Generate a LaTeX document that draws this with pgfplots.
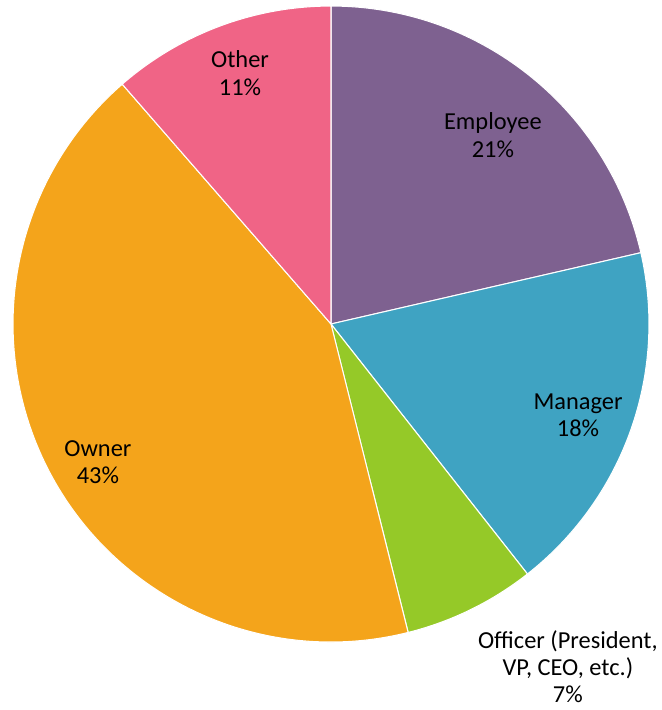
\documentclass[border=0pt]{standalone}
\usepackage{pgfplots}
\pgfplotsset{compat=1.18}
\usepackage{fontspec}
\setmainfont{Carlito}

\definecolor{cEmployee}{HTML}{7E6190}
\definecolor{cManager}{HTML}{3FA3C2}
\definecolor{cOfficer}{HTML}{95C928}
\definecolor{cOwner}{HTML}{F4A41B}
\definecolor{cOther}{HTML}{F06486}

\tikzset{pielabel/.style={font=\fontsize{18.3}{20.3}\selectfont, align=center, text=black, inner sep=0pt}}

% shares in percent, clockwise from the top
\def\sEmployee{21.4}
\def\sManager{18.0}
\def\sOfficer{6.7}
\def\sOwner{42.5}
\def\sOther{11.4}

\pgfmathsetmacro\aA{90}
\pgfmathsetmacro\aB{\aA-3.6*\sEmployee}
\pgfmathsetmacro\aC{\aB-3.6*\sManager}
\pgfmathsetmacro\aD{\aC-3.6*\sOfficer}
\pgfmathsetmacro\aE{\aD-3.6*\sOwner}
\pgfmathsetmacro\aF{\aE-3.6*\sOther}

\newcommand\pieslice[3]{%
  \fill[#3, draw=white, line width=0.8pt] (axis cs:0,0) -- (axis cs:{cos(#1)},{sin(#1)})
    arc[start angle=#1, end angle=#2, radius=1] -- cycle;}

\begin{document}
\begin{tikzpicture}
\begin{axis}[
  hide axis, scale only axis, clip=false,
  width=496.5pt, height=532.5pt,
  xmin=-1.041, xmax=1.041, ymin=-1.214, ymax=1.019,
]
\coordinate (ll) at (rel axis cs:0,0);
\coordinate (ur) at (rel axis cs:1,1);
\pieslice{\aA}{\aB}{cEmployee}
\pieslice{\aB}{\aC}{cManager}
\pieslice{\aC}{\aD}{cOfficer}
\pieslice{\aD}{\aE}{cOwner}
\pieslice{\aE}{\aF}{cOther}

\node[pielabel] at (axis cs:0.509,0.594) {Employee\\21\%};
\node[pielabel] at (axis cs:0.777,-0.286) {Manager\\18\%};
\node[pielabel] at (axis cs:0.745,-1.079) {Officer (President,\\VP, CEO, etc.)\\7\%};
\node[pielabel] at (axis cs:-0.733,-0.434) {Owner\\43\%};
\node[pielabel] at (axis cs:-0.286,0.789) {Other\\11\%};
\end{axis}
\pgfresetboundingbox
\path (ll) rectangle (ur);
\end{tikzpicture}
\end{document}
